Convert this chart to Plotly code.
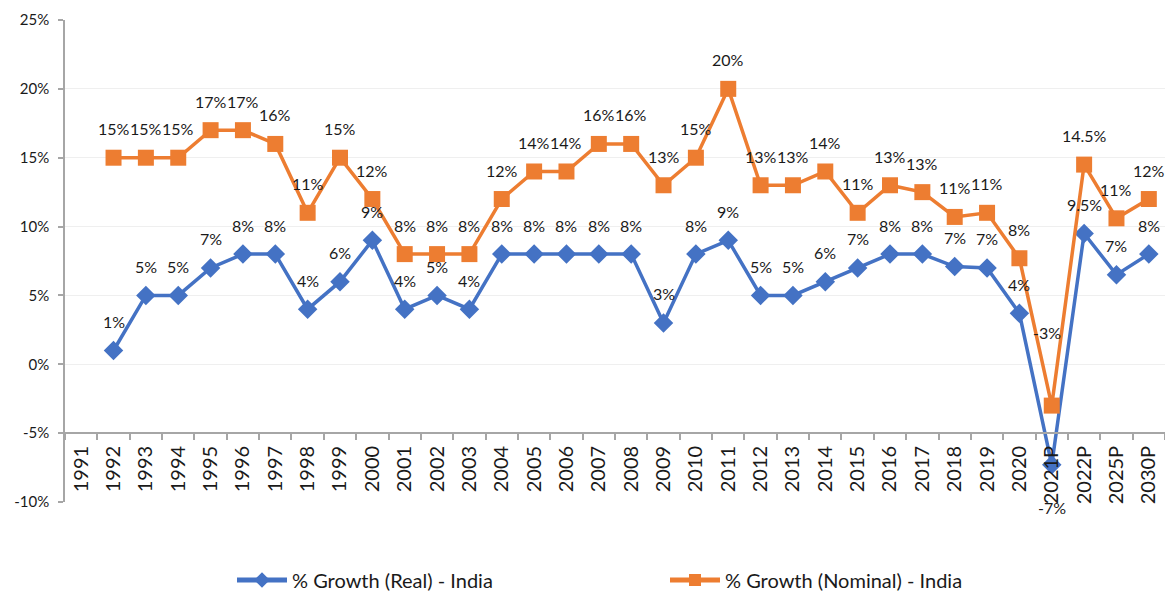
import plotly.graph_objects as go

categories = ["1991", "1992", "1993", "1994", "1995", "1996", "1997", "1998", "1999", "2000",
              "2001", "2002", "2003", "2004", "2005", "2006", "2007", "2008", "2009", "2010",
              "2011", "2012", "2013", "2014", "2015", "2016", "2017", "2018", "2019", "2020",
              "2021P", "2022P", "2025P", "2030P"]

real_growth = [None, 1, 5, 5, 7, 8, 8, 4, 6, 9,
               4, 5, 4, 8, 8, 8, 8, 8, 3, 8,
               9, 5, 5, 6, 7, 8, 8, 7.1, 7.0, 3.7,
               -7.3, 9.5, 6.5, 8]
real_labels = ["", "1%", "5%", "5%", "7%", "8%", "8%", "4%", "6%", "9%",
               "4%", "5%", "4%", "8%", "8%", "8%", "8%", "8%", "3%", "8%",
               "9%", "5%", "5%", "6%", "7%", "8%", "8%", "7%", "7%", "4%",
               "-7%", "9.5%", "7%", "8%"]

nominal_growth = [None, 15, 15, 15, 17, 17, 16, 11, 15, 12,
                  8, 8, 8, 12, 14, 14, 16, 16, 13, 15,
                  20, 13, 13, 14, 11, 13, 12.5, 10.7, 11, 7.7,
                  -3, 14.5, 10.6, 12]
nominal_labels = ["", "15%", "15%", "15%", "17%", "17%", "16%", "11%", "15%", "12%",
                  "8%", "8%", "8%", "12%", "14%", "14%", "16%", "16%", "13%", "15%",
                  "20%", "13%", "13%", "14%", "11%", "13%", "13%", "11%", "11%", "8%",
                  "-3%", "14.5%", "11%", "12%"]

y_tick_values = [-10, -5, 0, 5, 10, 15, 20, 25]
y_tick_text = ["-10%", "-5%", "0%", "5%", "10%", "15%", "20%", "25%"]

# label placement (style): default offset above the marker, with a few overrides
default_shift = (0, 29)
real_shift_override = {"2021P": (0, -43)}
nominal_shift_override = {"2021P": (-5, 73)}

BLUE = "#4472C4"
ORANGE = "#ED7D31"
FONT = "Lato"
TXT = "#1a1a1a"
AXIS = "#A6A6A6"

fig = go.Figure()
fig.add_trace(go.Scatter(
    x=categories, y=real_growth, name="% Growth (Real) - India",
    mode="lines+markers",
    line=dict(color=BLUE, width=3.5),
    marker=dict(symbol="diamond", size=15, color=BLUE),
    connectgaps=False,
))
fig.add_trace(go.Scatter(
    x=categories, y=nominal_growth, name="% Growth (Nominal) - India",
    mode="lines+markers",
    line=dict(color=ORANGE, width=3.5),
    marker=dict(symbol="square", size=16, color=ORANGE),
    connectgaps=False,
))

annotations = []
for vals, labels, overrides in ((real_growth, real_labels, real_shift_override),
                                (nominal_growth, nominal_labels, nominal_shift_override)):
    for idx, (cat, v, lab) in enumerate(zip(categories, vals, labels)):
        if v is None:
            continue
        dx, dy = overrides.get(cat, default_shift)
        annotations.append(dict(
            x=idx, y=v, xref="x", yref="y", text=lab, showarrow=False,
            xshift=dx, yshift=dy, xanchor="center", yanchor="middle",
            font=dict(family=FONT, size=16, color=TXT),
        ))

fig.update_layout(
    width=1165, height=591,
    margin=dict(l=65, r=0, t=20, b=89, autoexpand=False),
    paper_bgcolor="white", plot_bgcolor="white",
    font=dict(family=FONT, size=15, color=TXT),
    showlegend=True,
    legend=dict(
        orientation="h", xref="container", yref="container",
        x=232 / 1165, y=(591 - 580) / 591, xanchor="left", yanchor="middle",
        font=dict(family=FONT, size=20, color=TXT),
        itemwidth=50, entrywidth=368, entrywidthmode="pixels",
        itemsizing="constant",
    ),
    annotations=annotations,
    xaxis=dict(
        type="category", categoryorder="array", categoryarray=categories,
        range=[-0.5, len(categories) - 0.5],
        anchor="free", position=5 / 35,
        showline=True, linecolor=AXIS, linewidth=1.5,
        ticks="outside", tickson="boundaries", ticklen=6, tickcolor=AXIS, tickwidth=1.5,
        tickangle=-90, tickfont=dict(family=FONT, size=20, color=TXT),
        ticklabelstandoff=4,
        showgrid=False, zeroline=False,
    ),
    yaxis=dict(
        range=[-10, 25], tickvals=y_tick_values, ticktext=y_tick_text,
        showline=True, linecolor=AXIS, linewidth=1.5,
        ticks="outside", ticklen=5, tickcolor=AXIS, tickwidth=1.5,
        ticklabelstandoff=6,
        tickfont=dict(family=FONT, size=15, color=TXT),
        showgrid=True, gridcolor="#EFEFEF", gridwidth=1,
        zeroline=False,
    ),
)

fig.write_html(
    "out.html",
    config={"displayModeBar": False},
    post_script="document.body.style.margin='0';document.body.style.overflow='hidden';",
)
